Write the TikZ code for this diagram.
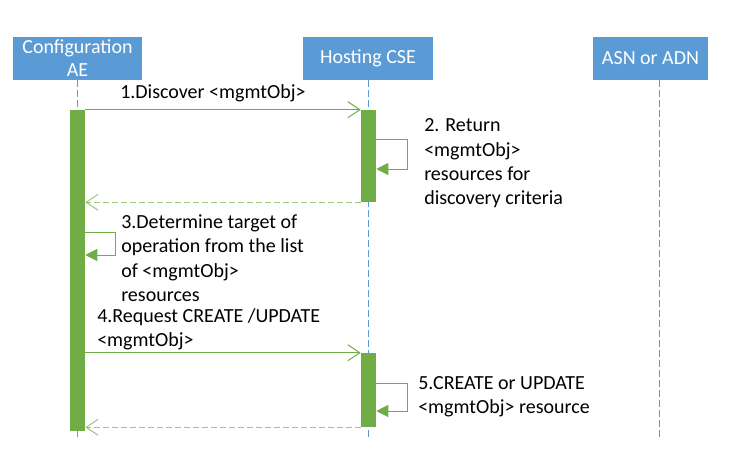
\documentclass[tikz,border=0pt]{standalone}
\usepackage{fontspec}
\setmainfont{Carlito}
\usetikzlibrary{arrows.meta,calc,positioning}
\definecolor{hdrblue}{HTML}{5B9BD5}
\definecolor{actgreen}{HTML}{70AD47}
\tikzset{
	hdr/.style={fill=hdrblue, text=white, inner sep=0pt, align=center, minimum height=32.25pt, font=\fontsize{15}{17.3}\selectfont},
	life/.style={hdrblue, line width=0.75pt, dash pattern=on 5pt off 2.5pt},
	actbar/.style={fill=actgreen, draw=none, inner sep=0pt, minimum width=11.25pt},
	msg/.style={actgreen, line width=0.75pt, -{Straight Barb[length=9pt,width=12pt]}},
	retmsg/.style={actgreen!70, line width=0.75pt, dash pattern=on 4.5pt off 2.25pt, -{Straight Barb[length=9pt,width=12pt]}},
	loopmsg/.style={actgreen, line width=0.75pt, -{Triangle[length=9pt,width=9pt]}},
	lbl/.style={anchor=west, inner sep=0pt, align=left, font=\fontsize{15}{18.3}\selectfont}
}
\begin{document}
\begin{tikzpicture}[x=0.75pt, y=-0.75pt]
	%%%%% START %%%%%
	\useasboundingbox (0,0) rectangle (731,451);
	
	\node[hdr, minimum width=96.75pt] (cae) at (77.5,58.5) {Configuration\\AE};
	\node[hdr, minimum width=97.5pt] (hcse) at (368,58.5) {Hosting CSE};
	\node[hdr, minimum width=86.25pt] (asn) at (650.5,58.5) {ASN or ADN};
	
	\draw[life] (cae.south) -- ++(0,358);
	\draw[life] (hcse.south) -- ++(0,358);
	\draw[life] ([xshift=6.4pt]asn.south) -- ++(0,358);
	
	\node[actbar, minimum height=240.75pt] (aeact) at (77.5,270.5) {};
	\node[actbar, minimum height=69pt] (hsact1) at (368.5,156) {};
	\node[actbar, minimum height=55.5pt] (hsact2) at (368.5,390) {};
	
	% discover
	\draw[msg] (aeact.east |- hsact1.north) -- (hsact1.north west);
	\node[lbl] (m1) at (120,93) {1.Discover <mgmtObj>};
	
	\draw[loopmsg] ($(hsact1.east)+(0,-17)$) -- ++(31,0) -- ++(0,30) -- ++(-31,0);
	\node[lbl] (m2) at (424,163.5) {2. Return\\<mgmtObj>\\resources for\\discovery criteria};
	
	\draw[retmsg] (hsact1.south west) -- (aeact.east |- hsact1.south);
	
	% determine target
	\draw[loopmsg] ($(aeact.east)+(0,-38.5)$) -- ++(30,0) -- ++(0,23) -- ++(-30,0);
	\node[lbl] (m3) at (121,258) {3.Determine target of\\operation from the list\\of <mgmtObj>\\resources};
	
	% create / update
	\draw[msg] (aeact.east |- hsact2.north) -- (hsact2.north west);
	\node[lbl] (m4) at (97,329.5) {4.Request CREATE /UPDATE\\<mgmtObj>};
	
	\draw[loopmsg] ($(hsact2.east)+(0,-7)$) -- ++(31,0) -- ++(0,28) -- ++(-31,0);
	\node[lbl] (m5) at (418,397) {5.CREATE or UPDATE\\<mgmtObj> resource};
	
	\draw[retmsg] (hsact2.south west) -- (aeact.east |- hsact2.south);
	%%%%% END %%%%%
\end{tikzpicture}
\end{document}
